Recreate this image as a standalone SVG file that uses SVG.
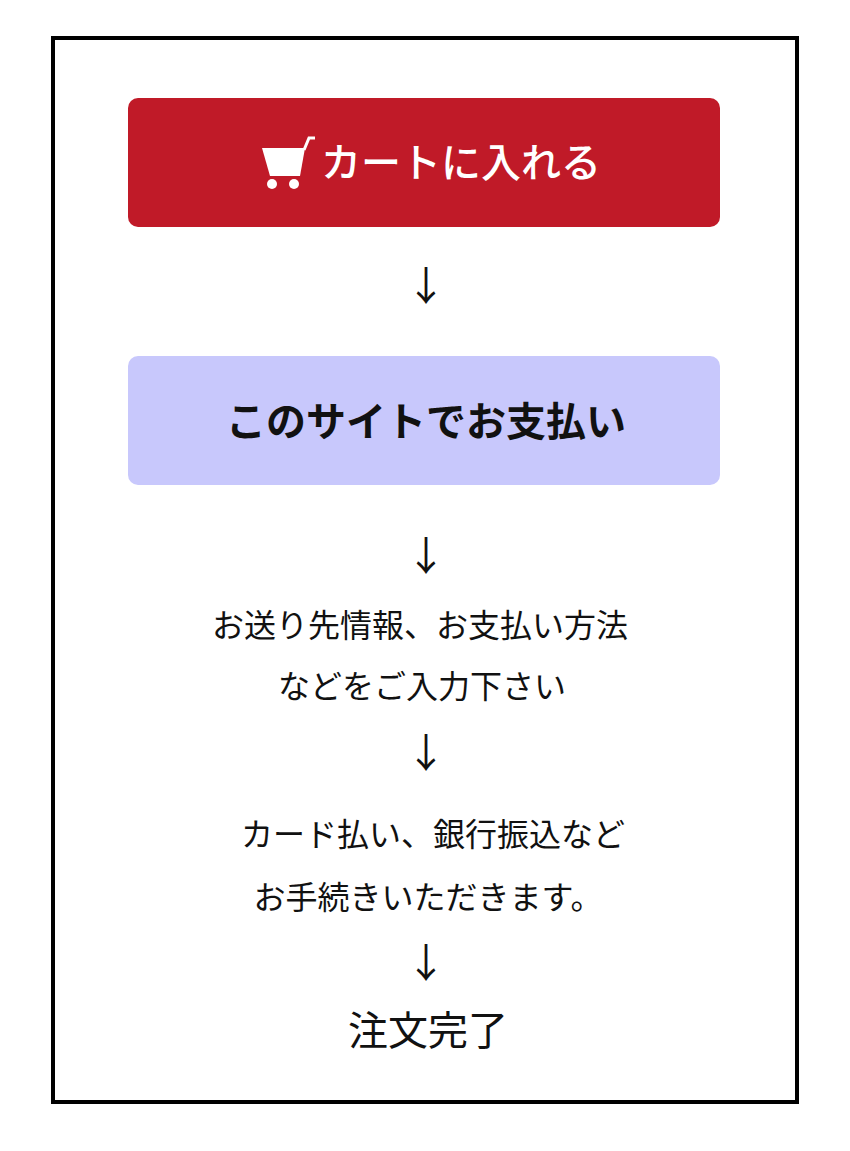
<svg xmlns="http://www.w3.org/2000/svg" width="850" height="1151" viewBox="0 0 850 1151">
<style>
text{font-family:"Noto Sans CJK JP","Noto Sans",sans-serif;text-anchor:middle;fill:#111}
.arr{font-size:40px}
.body{font-size:32px}
</style>
<rect width="850" height="1151" fill="#fff"/>
<rect x="53" y="38" width="744" height="1064" fill="none" stroke="#000" stroke-width="4"/>
<g id="cart">
<rect x="128" y="98" width="592" height="129" rx="10" fill="#c01a28"/>
<path d="M262 148 L305 148 L300 176 L270 176 Z" fill="#fff"/>
<path d="M304 150 L309 138 L315 138" fill="none" stroke="#fff" stroke-width="3"/>
<circle cx="272" cy="184" r="5" fill="#fff"/><circle cx="294" cy="184" r="5" fill="#fff"/>
<text x="461" y="177" style="font-size:40px;fill:#fff;font-weight:500">カートに入れる</text>
</g>
<g id="site">
<rect x="128" y="356" width="592" height="129" rx="10" fill="#c8c8fc"/>
<text x="426" y="436" style="font-size:40px;font-weight:bold">このサイトでお支払い</text>
</g>
<g id="input">
<text class="body" x="420" y="637">お送り先情報、お支払い方法</text>
<text class="body" x="422" y="698">などをご入力下さい</text>
</g>
<g id="pay">
<text class="body" x="433" y="846">カード払い、銀行振込など</text>
<text class="body" x="428" y="909">お手続きいただきます。</text>
</g>
<g id="done">
<text x="428" y="1045" style="font-size:40px">注文完了</text>
</g>
<g id="connectors">
<text class="arr" x="426" y="300">↓</text>
<text class="arr" x="426" y="570">↓</text>
<text class="arr" x="426" y="767">↓</text>
<text class="arr" x="426" y="977">↓</text>
</g>
</svg>
